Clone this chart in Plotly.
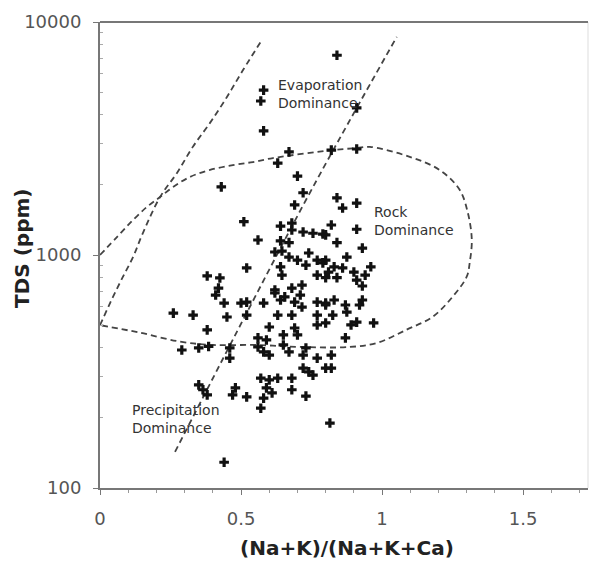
import numpy as np
import plotly.graph_objects as go

# ---- sample data: (Na+K)/(Na+K+Ca) ratio and TDS (ppm) ----
ratio = [0.84, 0.58, 0.57, 0.91, 0.58, 0.67, 0.82, 0.91, 0.63, 0.70, 0.43, 0.72, 0.84, 0.69, 0.91, 0.86,
         0.51, 0.64, 0.68, 0.68, 0.72, 0.755, 0.79, 0.82, 0.80, 0.91, 0.56, 0.64, 0.67, 0.84, 0.93, 0.62,
         0.645, 0.67, 0.74, 0.875, 0.70, 0.73, 0.77, 0.79, 0.80, 0.52, 0.64, 0.645, 0.77, 0.80, 0.83, 0.81,
         0.86, 0.90, 0.96, 0.94, 0.91, 0.93, 0.84, 0.38, 0.425, 0.42, 0.62, 0.68, 0.716, 0.41, 0.44, 0.50,
         0.52, 0.58, 0.62, 0.655, 0.69, 0.716, 0.77, 0.80, 0.45, 0.52, 0.63, 0.68, 0.77, 0.38, 0.60, 0.65,
         0.69, 0.70, 0.77, 0.56, 0.59, 0.35, 0.29, 0.385, 0.46, 0.46, 0.56, 0.58, 0.60, 0.65, 0.67, 0.72,
         0.73, 0.77, 0.72, 0.74, 0.755, 0.80, 0.57, 0.60, 0.63, 0.68, 0.35, 0.365, 0.38, 0.48, 0.47, 0.52,
         0.59, 0.61, 0.58, 0.68, 0.73, 0.57, 0.815, 0.44, 0.26, 0.33, 0.80, 0.825, 0.80, 0.87, 0.875, 0.93,
         0.92, 0.97, 0.91, 0.89, 0.87, 0.82, 0.82, 0.64, 0.71, 0.83]
tds = [7200, 5100, 4580, 4280, 3410, 2770, 2820, 2850, 2480, 2180, 1960, 1850, 1760, 1640, 1670, 1590,
       1390, 1330, 1370, 1280, 1255, 1240, 1230, 1345, 1220, 1290, 1160, 1150, 1130, 1130, 1070, 1030,
       1040, 980, 1020, 980, 950, 905, 950, 925, 950, 880, 890, 820, 820, 800, 890, 845,
       880, 845, 890, 820, 780, 736, 800, 813, 797, 721, 708, 721, 743, 673, 622, 622,
       628, 622, 687, 661, 628, 598, 628, 622, 542, 552, 552, 552, 552, 477, 491, 454,
       486, 454, 501, 441, 432, 399, 391, 405, 399, 361, 403, 384, 372, 411, 384, 372,
       399, 361, 327, 315, 305, 327, 296, 291, 296, 296, 277, 264, 251, 269, 251, 246,
       269, 256, 243, 264, 248, 220, 190, 129, 563, 552, 610, 552, 511, 610, 569, 641,
       610, 511, 515, 501, 441, 372, 327, 641, 673, 641]

# ---- Gibbs boundary curves ----
rock_x = [0.0, 0.06, 0.117, 0.166, 0.213, 0.259, 0.319, 0.39, 0.471, 0.542, 0.613, 0.826, 0.91, 0.957,
          1.098, 1.204, 1.275, 1.304, 1.318, 1.311, 1.30, 1.25, 1.18, 1.087, 0.981, 0.886, 0.708, 0.556,
          0.40, 0.283, 0.142, 0.0]
rock_y = [1000, 1194, 1412, 1607, 1774, 1958, 2163, 2317, 2432, 2506, 2606, 2823, 2877, 2910,
          2637, 2317, 1905, 1518, 1163, 934, 807, 662, 544, 478, 419, 403, 403, 411,
          411, 425, 464, 500]
left_x = [0.0, 0.046, 0.081, 0.117, 0.152, 0.213, 0.273, 0.329, 0.39, 0.45, 0.507, 0.574]
left_y = [500, 661, 805, 980, 1242, 1774, 2250, 2911, 3690, 4767, 6220, 8370]
right_x = [0.266, 0.507, 0.755, 1.052]
right_y = [143, 526, 1958, 8630]

labels = ["Evaporation<br>Dominance", "Rock<br>Dominance", "Precipitation<br>Dominance"]
label_x = [0.623, 0.963, 0.106]
label_y = [4910, 1400, 198]

FONT = "DejaVu Sans, Arial, sans-serif"
dash_style = dict(color="#444", width=1.8, dash="6px,4px")

fig = go.Figure()
for xs, ys in [(rock_x, rock_y), (left_x, left_y), (right_x, right_y)]:
    fig.add_trace(go.Scatter(x=xs, y=ys, mode="lines", line=dict(shape="spline", smoothing=1.0, **dash_style),
                             hoverinfo="skip", showlegend=False))

fig.add_trace(go.Scatter(x=ratio, y=tds, mode="markers",
                         marker=dict(symbol="cross", size=8, color="#111", line=dict(width=0)),
                         showlegend=False))

for t, lx, ly in zip(labels, label_x, label_y):
    fig.add_annotation(x=lx, y=np.log10(ly), text=t, showarrow=False, xanchor="left", yanchor="middle",
                       align="left", font=dict(family=FONT, size=14, color="#333"))

fig.add_annotation(xref="paper", yref="paper", x=-0.16, y=0.515, text="<b>TDS (ppm)</b>", textangle=-90,
                   xanchor="center", yanchor="middle",
                   showarrow=False, font=dict(family=FONT, size=20, color="#222"))
fig.add_annotation(xref="paper", yref="paper", x=0.506, y=-0.129, text="<b>(Na+K)/(Na+K+Ca)</b>",
                   xanchor="center", yanchor="middle",
                   showarrow=False, font=dict(family=FONT, size=20, color="#222"))

# faint right border
fig.add_shape(type="line", xref="paper", yref="paper", x0=1, x1=1, y0=0, y1=1,
              line=dict(color="#ddd", width=1))

fig.update_xaxes(range=[0, 1.73], tickvals=[0, 0.5, 1, 1.5], ticktext=["0", "0.5", "1", "1.5"],
                 showline=True, linecolor="#777", linewidth=2, mirror=False, ticks="outside", ticklen=5,
                 tickcolor="#777", tickfont=dict(family=FONT, size=18, color="#555"),
                 ticklabelstandoff=8, showgrid=False, zeroline=False,
                 minor=dict(dtick=0.1, ticks="outside", ticklen=3, tickcolor="#999", showgrid=False))
fig.update_yaxes(type="log", range=[2, 4], tickvals=[100, 1000, 10000], ticktext=["100", "1000", "10000"],
                 showline=True, linecolor="#777", linewidth=2, ticks="outside", ticklen=5, tickcolor="#777",
                 tickfont=dict(family=FONT, size=18, color="#555"), ticklabelstandoff=8,
                 showgrid=False, zeroline=False,
                 minor=dict(tickvals=[v * d for d in (100, 1000) for v in range(2, 10)], ticks="inside",
                            ticklen=3, tickcolor="#aaa", showgrid=False))

# top border line
fig.add_shape(type="line", xref="paper", yref="paper", x0=0, x1=1, y0=1, y1=1,
              line=dict(color="#777", width=2))

fig.update_layout(width=591, height=563, margin=dict(l=100, r=3, t=22, b=75),
                  plot_bgcolor="white", paper_bgcolor="white", showlegend=False)

fig.write_html("out.html")
